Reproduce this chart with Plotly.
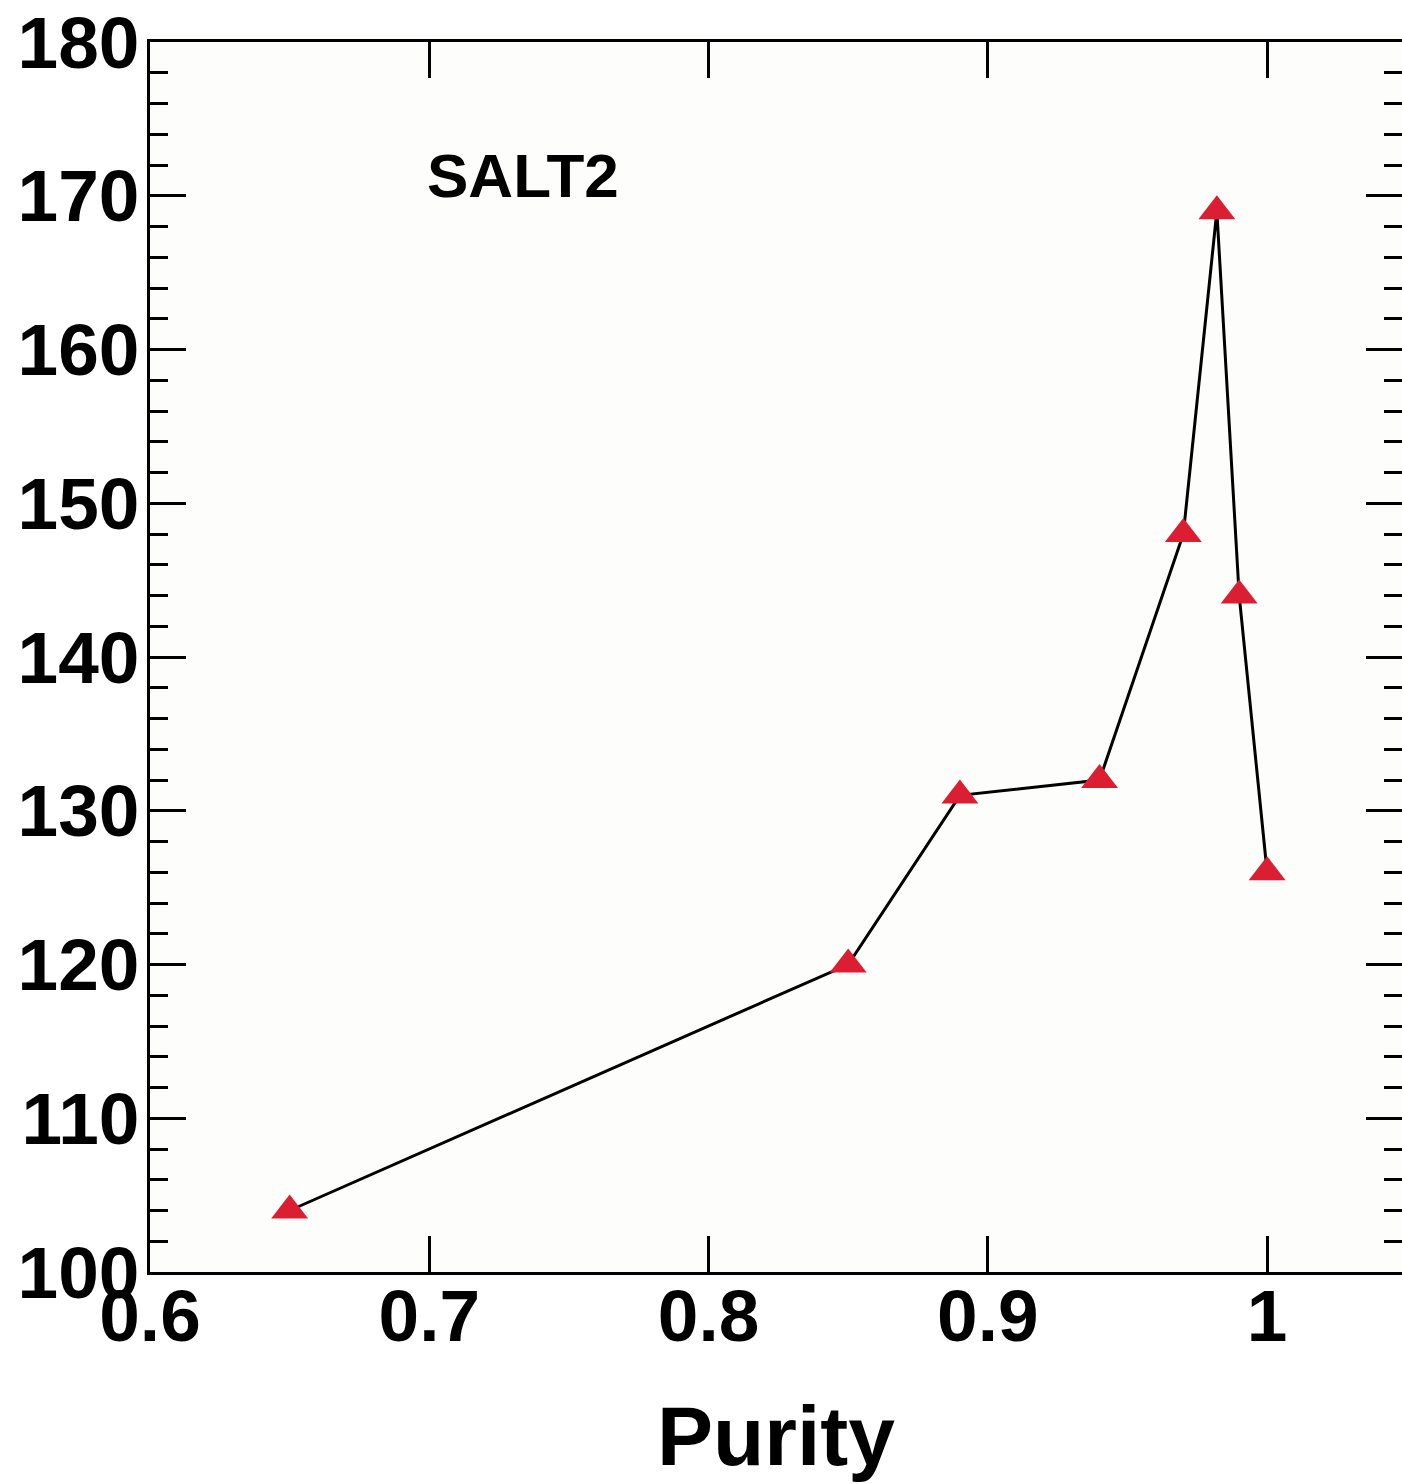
import plotly.graph_objects as go

# Purity vs. figure of merit for the SALT2 light-curve fit
purity = [0.65, 0.85, 0.89, 0.94, 0.97, 0.982, 0.99, 1.0]
merit = [104, 120, 131, 132, 148, 169, 144, 126]

x_tickvals = [0.6, 0.7, 0.8, 0.9, 1.0]
x_ticktext = ["0.6", "0.7", "0.8", "0.9", "1"]
y_tickvals = [100, 110, 120, 130, 140, 150, 160, 170, 180]

FONT = "Liberation Sans, Arial, Helvetica, sans-serif"
X_RANGE = [0.6, 1.0483]
Y_RANGE = [100, 180]

fig = go.Figure()

fig.add_trace(go.Scatter(
    x=purity, y=merit,
    mode="lines+markers",
    line=dict(color="black", width=3),
    marker=dict(symbol="triangle-up", size=32, color="#dc1e32",
                line=dict(width=0)),
    showlegend=False,
    cliponaxis=False,
))

# invisible trace bound to the right-hand axis so its ticks are drawn
fig.add_trace(go.Scatter(x=[None], y=[None], yaxis="y2", showlegend=False,
                         hoverinfo="skip"))

fig.add_annotation(
    x=0.6985, y=171.3, xref="x", yref="y",
    text="<b>SALT2</b>", showarrow=False,
    xanchor="left", yanchor="middle",
    font=dict(family=FONT, size=62, color="black"),
)

fig.update_layout(
    width=1402, height=1484,
    margin=dict(l=150, r=0, t=42, b=212),
    paper_bgcolor="white",
    plot_bgcolor="#fdfdfc",
    font=dict(family=FONT, color="black"),
    xaxis=dict(
        range=X_RANGE,
        tickmode="array", tickvals=x_tickvals, ticktext=x_ticktext,
        ticks="inside", ticklen=36, tickwidth=3, tickcolor="black",
        showline=True, linewidth=3, linecolor="black", mirror="ticks",
        showgrid=False, zeroline=False,
        ticklabelstandoff=-22,
        tickfont=dict(family=FONT, size=73, color="black", weight="bold"),
        title=dict(text="<b>Purity</b>", standoff=52,
                   font=dict(family=FONT, size=84, color="black")),
    ),
    yaxis=dict(
        range=Y_RANGE,
        tickmode="array", tickvals=y_tickvals,
        ticks="inside", ticklen=36, tickwidth=3, tickcolor="black",
        minor=dict(dtick=2, ticks="inside", ticklen=18, tickwidth=3,
                   tickcolor="black"),
        showline=True, linewidth=3, linecolor="black",
        showgrid=False, zeroline=False,
        ticklabelstandoff=-7,
        tickfont=dict(family=FONT, size=73, color="black", weight="bold"),
    ),
    yaxis2=dict(
        range=Y_RANGE, overlaying="y", side="right",
        tickmode="array", tickvals=y_tickvals,
        ticks="inside", ticklen=36, tickwidth=3, tickcolor="black",
        minor=dict(dtick=2, ticks="inside", ticklen=18, tickwidth=3,
                   tickcolor="black"),
        showline=False, showgrid=False, zeroline=False,
        showticklabels=False,
    ),
)

fig.write_html("out.html")
